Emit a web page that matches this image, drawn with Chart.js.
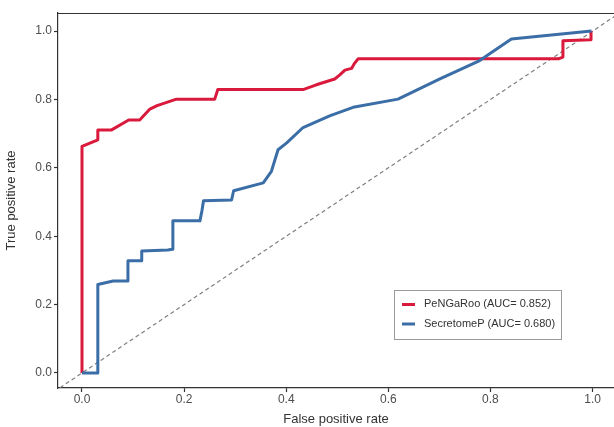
<!DOCTYPE html>
<html>
<head>
<meta charset="utf-8">
<script src="https://cdn.jsdelivr.net/npm/chart.js@4"></script>
<style>
html,body{margin:0;padding:0;background:#fff;}
#wrap{width:614px;height:427px;position:relative;}
</style>
</head>
<body>
<div id="wrap"><canvas id="c" width="614" height="427"></canvas></div>
<script>
// ---- data ----
const seriesNames = ["PeNGaRoo (AUC= 0.852)", "SecretomeP (AUC= 0.680)"];
const tickValues = [0, 0.2, 0.4, 0.6, 0.8, 1.0];
const tickLabels = ["0.0", "0.2", "0.4", "0.6", "0.8", "1.0"];

const pengarooFPR = [0, 0, 0.031, 0.031, 0.058, 0.0915, 0.113, 0.133, 0.147, 0.185, 0.260, 0.266, 0.433, 0.459, 0.495, 0.505, 0.515, 0.528, 0.533, 0.541, 0.933, 0.942, 0.942, 0.997, 0.997];
const pengarooTPR = [0, 0.663, 0.682, 0.711, 0.711, 0.740, 0.740, 0.772, 0.782, 0.801, 0.801, 0.829, 0.829, 0.843, 0.860, 0.872, 0.886, 0.891, 0.904, 0.919, 0.919, 0.924, 0.972, 0.975, 1.0];

const secretomeFPR = [0, 0.031, 0.031, 0.061, 0.090, 0.090, 0.117, 0.117, 0.168, 0.177, 0.178, 0.231, 0.235, 0.238, 0.293, 0.297, 0.355, 0.371, 0.384, 0.401, 0.433, 0.485, 0.531, 0.619, 0.701, 0.779, 0.841, 0.998];
const secretomeTPR = [0, 0, 0.259, 0.269, 0.269, 0.328, 0.328, 0.357, 0.360, 0.362, 0.445, 0.445, 0.475, 0.504, 0.506, 0.533, 0.556, 0.590, 0.653, 0.673, 0.718, 0.752, 0.777, 0.801, 0.860, 0.914, 0.977, 1.0];

const chanceLine = [-0.1, 1.1];

const zip = (xs, ys) => xs.map((x, i) => ({x: x, y: ys[i]}));

const FONT = "'Liberation Sans', Arial, sans-serif";
const RED = "#d91a3c";
const BLUE = "#3b6ea6";

const frameAndLegend = {
  id: 'frameAndLegend',
  afterDraw(chart) {
    const ctx = chart.ctx;
    const a = chart.chartArea;
    ctx.save();
    // top frame line
    ctx.strokeStyle = '#333';
    ctx.lineWidth = 1.2;
    ctx.beginPath();
    ctx.moveTo(a.left, a.top + 0.5);
    ctx.lineTo(a.right, a.top + 0.5);
    ctx.stroke();
    // legend
    const bx = 394.5, by = 290.5, bw = 167, bh = 49;
    ctx.fillStyle = '#fff';
    ctx.fillRect(bx, by, bw, bh);
    ctx.strokeStyle = '#9a9a9a';
    ctx.lineWidth = 1;
    ctx.strokeRect(bx, by, bw, bh);
    const ds = chart.data.datasets.slice(0, 2);
    ds.forEach((d, i) => {
      const y = by + 14 + i * 19.5;
      ctx.strokeStyle = d.borderColor;
      ctx.lineWidth = 3;
      ctx.beginPath();
      ctx.moveTo(402, y);
      ctx.lineTo(415, y);
      ctx.stroke();
      ctx.fillStyle = '#333';
      ctx.font = '11px ' + FONT;
      ctx.textBaseline = 'middle';
      ctx.textAlign = 'left';
      ctx.fillText(d.label, 424, y - 0.5);
    });
    ctx.restore();
  }
};

new Chart(document.getElementById('c'), {
  type: 'scatter',
  data: {
    datasets: [
      {label: seriesNames[0], data: zip(pengarooFPR, pengarooTPR), showLine: true, borderColor: RED, backgroundColor: RED, borderWidth: 3, pointRadius: 0, tension: 0, order: 2, borderJoinStyle: 'round'},
      {label: seriesNames[1], data: zip(secretomeFPR, secretomeTPR), showLine: true, borderColor: BLUE, backgroundColor: BLUE, borderWidth: 3, pointRadius: 0, tension: 0, order: 1, borderJoinStyle: 'round'},
      {label: 'chance', data: zip(chanceLine, chanceLine), showLine: true, borderColor: '#7f7f7f', borderWidth: 1.2, borderDash: [4, 3], pointRadius: 0, order: 3}
    ]
  },
  options: {
    responsive: false,
    animation: false,
    layout: {padding: {top: 13, right: 0, left: 0, bottom: 0}},
    plugins: {legend: {display: false}, tooltip: {enabled: false}},
    scales: {
      x: {
        type: 'linear', min: -0.047, max: 1.042,
        afterBuildTicks: s => { s.ticks = tickValues.map(v => ({value: v})); },
        afterFit: s => { s.height = 39; },
        ticks: {callback: (v) => tickLabels[tickValues.indexOf(v)] ?? '', color: '#4d4d4d', font: {family: FONT, size: 12}, padding: 0, maxRotation: 0},
        grid: {display: true, drawOnChartArea: false, drawTicks: true, tickLength: 4, tickColor: '#333', tickWidth: 1.2},
        border: {display: true, color: '#333', width: 1.2},
        title: {display: true, text: 'False positive rate', color: '#333', font: {family: FONT, size: 13}, padding: {top: 0, bottom: 0}}
      },
      y: {
        type: 'linear', min: -0.044, max: 1.053,
        afterBuildTicks: s => { s.ticks = tickValues.map(v => ({value: v})); },
        afterFit: s => { s.width = 58; },
        ticks: {callback: (v) => tickLabels[tickValues.indexOf(v)] ?? '', color: '#4d4d4d', font: {family: FONT, size: 12}, padding: 2},
        grid: {display: true, drawOnChartArea: false, drawTicks: true, tickLength: 4, tickColor: '#333', tickWidth: 1.2},
        border: {display: true, color: '#333', width: 1.2},
        title: {display: true, text: 'True positive rate', color: '#333', font: {family: FONT, size: 13}, padding: {top: 4, bottom: 0}}
      }
    }
  },
  plugins: [frameAndLegend]
});
</script>
</body>
</html>
